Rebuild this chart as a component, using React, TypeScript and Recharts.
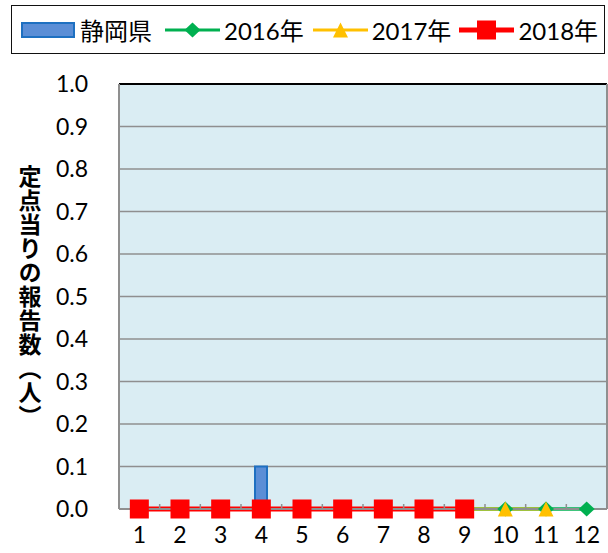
import {
  Bar,
  CartesianGrid,
  ComposedChart,
  Legend,
  Line,
  ReferenceLine,
  XAxis,
  YAxis,
} from "recharts";

const months = ["1", "2", "3", "4", "5", "6", "7", "8", "9", "10", "11", "12"];
const shizuoka = [0, 0, 0, 0.1, 0, 0, 0, 0, 0, 0, 0, 0];
const y2016 = [0, 0, 0, 0, 0, 0, 0, 0, 0, 0, 0, 0];
const y2017 = [0, 0, 0, 0, 0, 0, 0, 0, 0, 0, 0, null];
const y2018 = [0, 0, 0, 0, 0, 0, 0, 0, 0, null, null, null];
const yTicks = [0, 0.1, 0.2, 0.3, 0.4, 0.5, 0.6, 0.7, 0.8, 0.9, 1.0];
const minorTicks = [1.5, 2.5, 3.5, 4.5, 5.5, 6.5, 7.5, 8.5, 9.5, 10.5, 11.5];
const yLabel = "定点当りの報告数（人）";

const BAR_FILL = "#5B8ED6";
const BAR_STROKE = "#1E70C1";
const GREEN = "#00B050";
const YELLOW = "#FFC000";
const RED = "#FF0000";
const GRID = "#8f8f8f";

const data = months.map((month, i) => ({
  month,
  m: i + 1,
  shizuoka: shizuoka[i],
  y2016: y2016[i],
  y2017: y2017[i],
  y2018: y2018[i],
}));

const legendItems = [
  { key: "shizuoka", name: "静岡県", kind: "bar", color: BAR_FILL, gap: 13 },
  { key: "y2016", name: "2016年", kind: "diamond", color: GREEN, gap: 9 },
  { key: "y2017", name: "2017年", kind: "triangle", color: YELLOW, gap: 8 },
  { key: "y2018", name: "2018年", kind: "square", color: RED, gap: 0 },
];

function Marker({ kind, cx, cy, color }: { kind: string; cx: number; cy: number; color: string }) {
  if (kind === "diamond") {
    const rx = 8;
    const ry = 7.5;
    return <path d={`M${cx},${cy - ry}L${cx + rx},${cy}L${cx},${cy + ry}L${cx - rx},${cy}Z`} fill={color} />;
  }
  if (kind === "triangle") {
    const r = 7.5;
    return <path d={`M${cx},${cy - r}L${cx + r},${cy + r}L${cx - r},${cy + r}Z`} fill={color} />;
  }
  const s = 9.5;
  return <rect x={cx - s} y={cy - s} width={s * 2} height={s * 2} fill={color} />;
}

function dotFor(kind: string, color: string) {
  return (props: any) => {
    const { cx, cy, index, value } = props;
    if (value == null || cx == null || cy == null) return <g key={`d-${index}`} />;
    return (
      <g key={`d-${index}`}>
        <Marker kind={kind} cx={cx} cy={cy} color={color} />
      </g>
    );
  };
}

function LegendContent() {
  return (
    <div
      style={{
        boxSizing: "border-box",
        width: 594,
        height: 49,
        border: "1.5px solid #111",
        display: "flex",
        alignItems: "center",
        paddingLeft: 9,
        fontSize: 24,
        color: "#000",
        background: "#fff",
        whiteSpace: "nowrap",
      }}
    >
      {legendItems.map((item) => (
        <div key={item.key} style={{ display: "flex", alignItems: "center", marginRight: item.gap }}>
          {item.kind === "bar" ? (
            <svg width={54} height={16} style={{ marginRight: 5 }}>
              <rect x={1} y={1} width={52} height={14} fill={BAR_FILL} stroke={BAR_STROKE} strokeWidth={2} />
            </svg>
          ) : (
            <svg width={55} height={22} style={{ marginRight: 4 }}>
              <line x1={0} y1={11} x2={55} y2={11} stroke={item.color} strokeWidth={item.kind === "square" ? 5 : 3} />
              <Marker kind={item.kind} cx={27.5} cy={11} color={item.color} />
            </svg>
          )}
          <span>{item.name}</span>
        </div>
      ))}
    </div>
  );
}

function YLabel(props: any) {
  const vb = props.viewBox || { x: 0, y: 84, width: 119, height: 425 };
  return (
    <text
      x={vb.x + 30}
      y={vb.y + vb.height / 2}
      textAnchor="middle"
      fontSize={23}
      fontWeight="bold"
      fill="#000"
      letterSpacing={1}
      style={{
        writingMode: "vertical-rl",
        fontFamily: "'Noto Sans CJK JP', sans-serif",
        textSpacingTrim: "trim-all",
      } as any}
    >
      {yLabel}
    </text>
  );
}

export default function App() {
  return (
    <div
      style={{
        position: "absolute",
        left: 0,
        top: 0,
        width: 608,
        height: 553,
        background: "#fff",
        fontFamily: "Lato, 'Noto Sans CJK JP', sans-serif",
      }}
    >
      <ComposedChart width={608} height={553} data={data} margin={{ top: 35, right: 1, bottom: 0, left: 0 }}>
        <CartesianGrid vertical={false} stroke={GRID} strokeWidth={1.5} fill="#DAEDF3" fillOpacity={1} />
        <Legend
          verticalAlign="top"
          content={() => <LegendContent />}
          wrapperStyle={{ top: 5, left: 11, width: 594, height: 49 }}
        />
        <XAxis
          dataKey="month"
          height={44}
          tick={{ fill: "#000", fontSize: 23 }}
          tickLine={false}
          tickSize={0}
          tickMargin={18}
          axisLine={{ stroke: GRID, strokeWidth: 2 }}
        />
        <XAxis
          xAxisId="minor"
          dataKey="m"
          type="number"
          domain={[0.5, 12.5]}
          allowDataOverflow
          ticks={minorTicks}
          mirror
          tickSize={5}
          tickLine={{ stroke: GRID, strokeWidth: 1.5 }}
          tick={() => <g />}
          axisLine={false}
        />
        <YAxis
          width={119}
          domain={[0, 1]}
          ticks={yTicks}
          tickFormatter={(v: number) => v.toFixed(1)}
          tick={{ fill: "#000", fontSize: 23 }}
          tickLine={false}
          tickSize={0}
          tickMargin={31}
          axisLine={{ stroke: GRID, strokeWidth: 2 }}
          label={<YLabel />}
        />
        <ReferenceLine y={1} stroke="#000" strokeWidth={2} />
        <ReferenceLine x="12" position="end" stroke={GRID} strokeWidth={2} />
        <Bar dataKey="shizuoka" name="静岡県" barSize={12} fill={BAR_FILL} stroke={BAR_STROKE} strokeWidth={2} isAnimationActive={false} />
        <Line dataKey="y2016" name="2016年" stroke={GREEN} strokeWidth={3.5} dot={dotFor("diamond", GREEN)} isAnimationActive={false} />
        <Line dataKey="y2017" name="2017年" stroke={YELLOW} strokeWidth={3} dot={dotFor("triangle", YELLOW)} isAnimationActive={false} />
        <Line dataKey="y2018" name="2018年" stroke={RED} strokeWidth={5} dot={dotFor("square", RED)} isAnimationActive={false} />
      </ComposedChart>
    </div>
  );
}
